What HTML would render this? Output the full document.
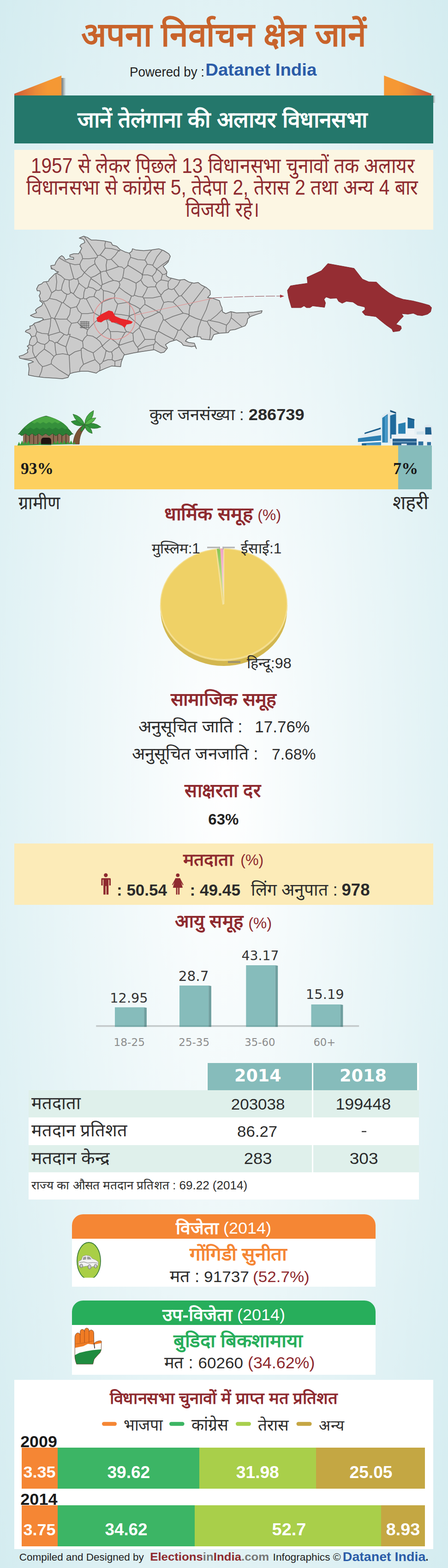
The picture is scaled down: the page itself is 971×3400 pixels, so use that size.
<!DOCTYPE html>
<html lang="hi">
<head>
<meta charset="utf-8">
<title>अपना निर्वाचन क्षेत्र जानें - अलायर विधानसभा</title>
<style>
html,body{margin:0;padding:0}
body{width:971px;height:3400px;position:relative;overflow:hidden;font-family:"Liberation Sans",sans-serif;
 background:radial-gradient(ellipse farthest-corner at 50% 50%,#ffffff 0%,#d4ecf0 100%)}
.b{position:absolute}
#banner{left:31px;top:207px;width:908px;height:103.700px;background:#24776b}
#intro{left:31px;top:325px;width:908px;height:172.800px;background:#fcf6e3}
#rural{left:31px;top:966px;width:832px;height:94.700px;background:#fdd05f}
#urban{left:863px;top:966px;width:73px;height:94.700px;background:#86bcbb}
#voters{left:31px;top:1829px;width:908px;height:132.800px;background:#fcebb8}
#thead1{left:450px;top:2305px;width:226px;height:59px;background:#86bcbb}
#thead2{left:679px;top:2305px;width:224.700px;height:59px;background:#86bcbb}
#thw{left:447px;top:2305px;width:461.200px;height:59px;background:#fff}
.row{left:62px;width:846.200px}
#r1{top:2364px;height:59px;background:#dff0eb}
#r2{top:2423px;height:60px;background:#fff}
#r3{top:2483px;height:59px;background:#dff0eb}
#r4{top:2542px;height:59px;background:#fff}
.vsep{left:676px;width:3px;top:2364px;height:178px;background:#fff}
.card{left:156px;width:658px;background:#fff;border-radius:24px 24px 0 0;overflow:hidden}
.card .h{height:53.600px}
#win{top:2632.700px;height:157px}#win .h{background:#f58634}
#run{top:2819.700px;height:161.300px}#run .h{background:#27ae5b}
#chart{left:31px;top:2992px;width:907.500px;height:366.800px;background:#fff}
.seg{position:absolute;height:88.700px}
svg{position:absolute;left:0;top:0}
.sr{position:absolute;left:0;top:0;width:1px;height:1px;margin:-1px;padding:0;overflow:hidden;clip:rect(0 0 0 0);clip-path:inset(50%);white-space:nowrap;border:0}
</style>
</head>
<body>
<div class="sr">
<h1>अपना निर्वाचन क्षेत्र जानें</h1><p>Powered by : Datanet India</p>
<h2>जानें तेलंगाना की अलायर विधानसभा</h2>
<p>1957 से लेकर पिछले 13 विधानसभा चुनावों तक अलायर विधानसभा से कांग्रेस 5, तेदेपा 2, तेरास 2 तथा अन्य 4 बार विजयी रहे।</p>
<p>कुल जनसंख्या : 286739 — ग्रामीण 93%, शहरी 7%</p>
<h3>धार्मिक समूह (%)</h3><p>हिन्दू:98, मुस्लिम:1, ईसाई:1</p>
<h3>सामाजिक समूह</h3><p>अनुसूचित जाति : 17.76% · अनुसूचित जनजाति : 7.68%</p>
<h3>साक्षरता दर</h3><p>63%</p>
<h3>मतदाता (%)</h3><p>पुरुष : 50.54, महिला : 49.45, लिंग अनुपात : 978</p>
<h3>आयु समूह (%)</h3><p>18-25: 12.95, 25-35: 28.7, 35-60: 43.17, 60+: 15.19</p>
<table><tr><th></th><th>2014</th><th>2018</th></tr><tr><td>मतदाता</td><td>203038</td><td>199448</td></tr><tr><td>मतदान प्रतिशत</td><td>86.27</td><td>-</td></tr><tr><td>मतदान केन्द्र</td><td>283</td><td>303</td></tr><tr><td colspan="3">राज्य का औसत मतदान प्रतिशत : 69.22 (2014)</td></tr></table>
<h3>विजेता (2014)</h3><p>गोंगिडी सुनीता — मत : 91737 (52.7%)</p>
<h3>उप-विजेता (2014)</h3><p>बुडिदा बिकशामाया — मत : 60260 (34.62%)</p>
<h3>विधानसभा चुनावों में प्राप्त मत प्रतिशत</h3><p>2009 — भाजपा 3.35, कांग्रेस 39.62, तेरास 31.98, अन्य 25.05; 2014 — भाजपा 3.75, कांग्रेस 34.62, तेरास 52.7, अन्य 8.93</p>
<p>Compiled and Designed by ElectionsinIndia.com Infographics © Datanet India.</p>
</div>

<div class="b" id="banner"></div>
<div class="b" id="intro"></div>
<div class="b" id="rural"></div><div class="b" id="urban"></div>
<div class="b" id="voters"></div>
<div class="b" id="thw"></div><div class="b" id="thead1"></div><div class="b" id="thead2"></div>
<div class="b row" id="r1"></div><div class="b row" id="r2"></div><div class="b row" id="r3"></div><div class="b row" id="r4"></div>
<div class="b vsep"></div>
<div class="b card" id="win"><div class="h"></div></div>
<div class="b card" id="run"><div class="h"></div></div>
<div class="b" id="chart">
<div class="seg" style="left:16.0px;top:147.0px;width:874.0px;background:#f58634"></div>
<div class="seg" style="left:93.8px;top:147.0px;width:796.2px;background:#3cb565"></div>
<div class="seg" style="left:401.1px;top:147.0px;width:488.9px;background:#a9cf4a"></div>
<div class="seg" style="left:653.5px;top:147.0px;width:236.5px;background:#c4a743"></div>
<div class="seg" style="left:16.0px;top:272.2px;width:874.0px;background:#f58634"></div>
<div class="seg" style="left:93.8px;top:272.2px;width:796.2px;background:#3cb565"></div>
<div class="seg" style="left:391.0px;top:272.2px;width:499.0px;background:#a9cf4a"></div>
<div class="seg" style="left:795.0px;top:272.2px;width:95.0px;background:#c4a743"></div>
</div>
<svg width="971" height="3400" viewBox="0 0 971 3400">
<defs>
<linearGradient id="rbL" x1="0" y1="0" x2="1" y2="0"><stop offset="0" stop-color="#d05a38"/><stop offset=".45" stop-color="#ea8a38"/><stop offset=".7" stop-color="#f59834"/><stop offset="1" stop-color="#f59834"/></linearGradient>
<linearGradient id="rbR" x1="1" y1="0" x2="0" y2="0"><stop offset="0" stop-color="#d05a38"/><stop offset=".45" stop-color="#ea8a38"/><stop offset=".7" stop-color="#f59834"/><stop offset="1" stop-color="#f59834"/></linearGradient>
<radialGradient id="pieg" cx="0.45" cy="0.4" r="0.7"><stop offset="0" stop-color="#f1d468"/><stop offset="1" stop-color="#edcf62"/></radialGradient>
</defs>
<defs><linearGradient id="rsh" x1="0" y1="0" x2="1" y2="0"><stop offset="0" stop-color="#444" stop-opacity=".75"/><stop offset=".5" stop-color="#666" stop-opacity=".45"/><stop offset="1" stop-color="#888" stop-opacity="0"/></linearGradient></defs>
<rect x="133.2" y="169" width="10" height="38" fill="url(#rsh)"/><polygon points="31,203.300 133.2,163.800 133.2,207 31,207" fill="url(#rbL)"/>
<polygon points="935,203.300 832.3,163.800 832.3,207 935,207" fill="url(#rbR)"/><rect x="939" y="207" width="5" height="16" fill="url(#rsh)" opacity=".6"/>
<g><polygon points="171.8,516.3 181.3,512.2 189.5,514.9 197.6,520.4 208.5,520.4 224.8,522.3 240.9,525.8 243.6,531.2 253.1,534.0 259.9,540.8 270.8,546.2 280.3,548.9 285.7,544.8 287.1,539.4 295.2,542.1 311.5,543.5 327.8,542.1 344.1,539.4 355.0,543.5 365.9,550.3 369.1,555.7 364.5,567.9 359.1,573.4 353.6,577.4 357.7,582.9 361.8,589.7 360.4,597.8 365.9,601.9 376.7,604.6 387.6,607.3 399.8,606.0 409.3,611.4 420.2,614.1 429.5,612.6 436.3,618.0 447.2,623.5 455.3,630.3 455.9,638.4 449.9,645.2 460.8,646.6 475.7,652.0 478.4,661.5 481.1,667.0 482.5,676.5 489.3,680.0 500.2,675.7 512.4,678.4 534.1,677.8 550.4,676.5 568.1,673.8 566.7,678.4 555.9,681.9 543.6,686.0 536.8,691.4 535.5,699.6 531.4,706.4 520.5,710.4 509.7,714.5 498.8,715.9 494.7,721.3 474.3,722.7 463.5,725.4 460.8,730.8 458.0,737.1 447.2,736.2 436.3,734.9 434.9,730.8 420.0,729.5 421.3,730.8 406.4,733.8 401.9,739.8 409.4,742.8 421.3,744.3 425.8,756.2 422.8,750.3 415.4,751.7 397.4,748.8 392.9,742.8 382.5,736.8 367.5,741.3 358.6,747.3 363.0,754.7 355.6,763.7 348.1,765.2 334.6,758.3 307.7,762.2 289.8,765.2 268.9,769.7 262.9,784.6 261.4,795.1 242.0,793.6 230.0,798.1 213.9,805.0 208.5,809.1 190.8,805.0 175.9,805.0 159.6,807.7 151.4,810.4 147.3,818.6 135.1,821.3 118.8,819.9 94.3,818.6 75.3,815.9 61.7,813.2 63.1,799.6 61.2,788.7 65.8,787.3 72.6,784.6 67.2,781.9 53.6,779.2 42.7,776.5 41.4,772.4 50.9,769.7 60.4,764.2 59.0,758.8 63.1,754.7 59.0,750.7 63.1,747.9 64.5,738.4 68.5,730.3 64.5,723.5 54.9,719.4 56.3,716.7 65.8,712.6 64.5,707.2 69.9,705.8 75.3,700.4 86.2,697.7 94.3,692.2 91.6,689.5 75.3,688.2 65.8,684.1 69.9,682.1 79.4,678.0 76.7,672.6 80.8,668.5 90.3,663.0 93.0,657.6 86.2,652.2 87.6,648.1 84.8,641.3 87.6,635.9 86.2,630.4 80.8,630.4 79.4,626.4 83.5,618.2 90.3,615.5 94.3,611.4 105.2,610.1 106.6,606.0 113.4,599.2 118.8,593.8 127.0,589.7 121.5,588.3 117.4,584.2 111.2,582.9 110.1,576.1 118.8,574.7 121.5,567.9 128.3,558.4 133.8,554.3 137.8,557.1 141.9,563.9 148.7,561.1 159.6,562.5 159.6,558.4 151.4,557.1 151.4,553.0 159.6,550.3 170.4,550.3 174.5,543.5 177.2,538.0 173.2,534.0 175.9,529.9 184.0,525.8 181.3,519.0" fill="#cbcbcb" stroke="#606060" stroke-width="1.5" stroke-linejoin="round"/>
<path d="M63 747L68 749L71 750M71 750L71 763L76 775M76 775L62 778L50 778M377 626L385 618L391 607M377 626L372 628L365 626M365 626L364 618L365 610M365 610L367 608L372 603M229 523L227 531L228 538M261 541L259 544L257 543M257 543L242 539L228 538M182 512L196 532L211 554M211 554L213 554L217 553M228 538L221 548L217 553M76 775L77 774L77 775M85 817L90 805L92 795M77 775L84 787L92 795M92 795L100 793L111 789M111 789L128 802L149 815M249 794L249 788L249 783M249 783L257 781L266 778M333 747L316 751L299 758M333 747L335 746L337 740M337 740L336 739L336 736M336 736L324 736L314 736M314 736L306 745L298 753M298 753L300 757L299 758M332 759L333 754L333 747M298 764L300 760L299 758M537 678L540 683L541 688M525 709L512 698L501 689M501 676L502 683L501 689M337 740L347 749L361 757M411 684L400 698L392 713M436 694L424 690L411 684M436 694L430 710L427 730M414 732L403 724L392 713M355 656L351 666L346 677M344 677L345 678L346 677M314 660L330 669L344 677M314 660L314 652L311 646M355 656L351 648L349 642M311 646L331 646L349 642M232 563L237 563L241 562M232 563L230 575L231 587M241 562L249 570L257 578M231 587L243 583L257 578M257 543L250 553L241 562M217 553L226 558L232 563M280 549L283 554L283 558M269 583L275 578L277 575M269 583L264 579L257 578M283 558L278 568L277 575M329 542L321 551L314 564M283 558L299 563L314 564M258 611L263 608L266 602M258 611L260 617L258 623M266 602L279 606L295 614M258 623L271 633L285 642M295 614L295 625L291 640M291 640L289 642L285 642M269 583L268 591L266 602M230 588L236 599L246 608M246 608L252 609L258 611M230 588L230 585L231 587M173 545L178 555L179 561M211 554L211 558L208 559M208 559L193 561L179 561M111 789L112 781L117 773M77 775L85 766L96 757M96 757L108 765L117 773M216 804L217 797L216 790M216 790L210 784L206 780M172 806L174 798L181 790M181 790L195 784L206 780M230 760L227 774L223 784M230 760L236 763L242 763M242 763L244 771L243 780M223 784L234 780L243 780M216 790L220 788L223 784M202 765L203 770L206 780M221 750L224 754L230 760M221 750L210 759L202 765M249 783L246 782L243 780M258 752L249 757L242 763M270 769L264 762L258 752M258 752L257 750L258 749M298 753L294 748L289 739M258 749L273 744L289 739M314 736L308 722L302 711M289 739L289 733L288 723M288 723L294 717L302 711M341 720L337 728L336 736M341 720L324 714L304 708M304 708L302 709L302 711M152 810L151 792L150 771M122 769L119 771L117 773M122 769L136 767L147 769M147 769L150 770L150 771M181 790L177 775L176 759M150 771L162 763L176 759M202 765L190 760L180 754M180 754L176 756L176 759M490 722L490 713L491 705M476 723L465 717L456 709M491 705L475 699L455 695M456 709L452 703L449 697M449 697L453 694L455 695M501 689L497 698L491 705M454 737L456 723L456 709M482 671L470 683L455 695M436 694L435 693L436 694M436 694L443 696L449 697M455 646L447 671L436 694M397 679L402 680L410 682M397 679L387 667L375 655M410 682L410 674L412 664M412 664L403 652L393 641M375 655L381 648L388 642M393 641L389 642L388 642M444 622L429 642L412 664M411 684L409 683L410 682M417 613L405 627L393 641M349 640L348 642L349 642M365 626L356 631L349 640M377 626L383 635L388 642M355 656L364 654L375 655M377 736L382 727L386 716M377 736L359 727L343 718M386 716L370 706L357 694M343 718L348 705L354 693M354 693L356 694L357 694M377 738L376 737L377 736M392 713L391 716L386 716M341 720L342 720L343 718M397 679L375 686L357 694M346 677L352 684L354 693M277 575L295 586L309 595M314 564L317 568L319 573M319 573L312 583L309 595M134 656L127 673L118 691M134 656L122 650L107 647M107 647L102 652L94 654M94 654L103 671L111 690M111 690L113 689L118 691M145 692L130 692L119 691M119 691L118 692L118 691M137 656L144 662L153 668M153 668L151 682L145 692M137 656L134 657L134 656M87 653L91 652L94 654M112 635L106 622L100 611M112 635L109 643L107 647M75 701L93 694L110 691M110 691L111 689L111 690M344 677L330 684L313 691M314 660L310 663L304 670M304 670L302 672L304 675M313 691L308 684L304 675M304 708L303 707L304 707M313 691L307 699L304 707M221 750L223 749L222 750M258 749L259 747L257 748M257 748L250 741L240 734M240 734L229 743L222 750M189 727L201 729L209 734M189 727L183 733L179 740M179 740L180 749L180 754M222 750L217 741L209 734M208 559L205 566L206 572M230 588L225 588L219 590M206 572L213 583L219 590M222 617L219 603L218 591M246 608L236 611L222 617M219 590L217 589L218 591M112 635L118 631L121 629M121 629L126 630L133 629M137 656L142 648L145 638M133 629L139 635L145 638M340 583L334 579L331 575M340 583L352 574L366 564M331 575L340 557L352 542M319 573L327 574L331 575M362 591L357 595L352 595M365 610L356 608L349 607M352 595L351 599L349 607M340 583L338 584L340 584M352 595L346 588L340 584M107 738L106 734L106 727M107 738L103 743L97 747M97 747L88 745L81 741M105 724L91 723L80 719M105 724L104 727L106 727M81 741L80 734L77 728M77 728L78 724L80 719M96 757L97 752L97 747M119 744L114 740L107 738M122 769L120 758L119 744M71 750L76 747L81 741M73 702L77 710L80 719M110 691L109 707L105 724M119 691L125 706L130 720M130 720L120 723L106 727M69 730L74 729L77 728M139 725L131 734L124 743M139 725L145 727L148 725M151 729L147 740L143 752M151 729L152 725L148 725M143 752L131 747L124 743M119 744L122 742L124 743M130 720L133 721L139 725M155 701L150 712L148 725M155 701L148 695L145 692M147 769L144 759L143 752M179 740L166 734L151 729M189 727L188 722L190 715M155 701L162 700L168 699M168 699L177 708L190 715M240 734L240 728L239 719M209 734L223 723L234 712M239 719L236 714L234 712M257 748L262 736L271 721M239 719L255 719L271 721M304 707L291 696L280 686M280 686L276 695L269 707M288 723L279 720L274 719M269 707L271 714L274 719M271 721L273 720L274 719M234 712L234 704L231 693M190 715L203 701L218 688M218 688L224 689L231 693M269 707L252 701L232 692M231 693L231 694L232 692M220 621L209 612L197 604M220 621L220 623L219 624M219 624L215 629L209 630M209 630L202 625L191 622M191 622L194 611L197 604M179 561L176 566L173 573M173 573L176 583L183 591M206 572L193 580L183 591M183 591L184 591L183 591M218 591L207 598L197 602M183 591L189 596L197 602M222 617L221 617L220 621M197 604L198 605L197 602M191 622L189 625L185 625M185 625L177 619L171 614M183 591L177 599L168 604M168 604L170 610L171 614M338 622L328 622L320 623M338 622L337 620L340 614M340 614L334 609L330 599M320 623L311 617L305 607M330 599L320 596L309 596M305 607L308 603L309 596M309 644L315 634L320 623M309 644L311 646L311 646M349 640L343 632L338 622M349 607L344 610L340 614M340 584L337 591L330 599M309 644L300 643L291 640M295 614L301 610L305 607M309 595L307 596L309 596M177 680L190 680L203 678M177 680L170 674L166 665M203 678L196 665L187 648M166 665L171 657L174 648M174 648L178 648L181 646M187 648L183 648L181 646M218 688L219 688L217 686M217 686L208 681L203 678M168 699L174 691L177 680M153 668L158 667L166 665M217 686L220 673L221 658M204 643L212 648L221 658M204 643L194 644L187 648M159 637L154 634L153 635M145 638L149 638L153 635M159 637L166 644L174 648M185 625L182 634L181 646M171 614L166 625L159 637M204 643L205 638L209 630M255 659L252 670L248 681M255 659L267 657L280 655M248 681L262 682L280 685M280 655L281 657L281 658M281 658L281 670L280 685M280 685L279 687L280 685M280 686L282 687L280 685M232 692L238 685L248 681M285 642L282 650L280 655M304 670L292 663L281 658M304 675L291 681L280 685M224 630L224 643L224 654M224 630L234 632L248 637M224 654L237 649L247 646M248 637L249 642L247 646M219 624L220 626L224 630M221 658L223 654L224 654M258 623L255 628L248 637M255 659L250 653L247 646M160 604L153 607L150 607M160 604L155 586L151 571M150 607L143 606L140 605M140 605L132 598L122 592M115 584L112 581L110 578M151 571L140 566L128 559M153 635L150 621L150 607M168 604L165 606L160 604M173 573L162 574L151 571M133 629L135 618L140 605M121 629L123 611L121 593" fill="none" stroke="#747474" stroke-width="1.55"/>
<path d="M173 698h21M173 702h21M173 706h21M173 710h20M176 696v16M180 696v16M184 696v16M188 696v16M192 697v14" stroke="#555" stroke-width="1.1" fill="none"/>
<polygon points="209.2,689.5 219.3,681.4 235.7,673.2 243.8,675.3 249.9,685.5 262.1,690.8 280.5,694.8 287.8,697.7 284.6,701.8 274.4,703.8 270.3,711.1 264.2,705.8 252.0,699.7 241.8,698.9 235.7,691.6 225.5,694.8 219.3,698.9 211.2,697.7" fill="#e8262a"/>
<circle cx="248" cy="691" r="45" fill="none" stroke="#e58d8d" stroke-width="1.4"/>
<path d="M293 683 L461 647" stroke="#e58d8d" stroke-width="1.2" fill="none"/>
<path d="M461 646 Q540 642 608 642" stroke="#8a4048" stroke-width="1" fill="none" stroke-dasharray="20 3"/>
<polygon points="616,642.2 607,638.800 607,645.600" fill="#a8323a"/>
</g>
<polygon points="622.9,629.7 629.4,619.9 639.7,618.1 666.8,614.2 665.5,601.3 696.5,587.1 710.7,571.6 767.5,581.9 785.5,605.2 799.1,611.1 815.8,611.6 827.5,623.2 843.0,634.9 858.4,643.9 873.9,649.1 894.6,652.4 915.2,657.6 930.7,662.0 935.4,667.1 933.3,676.2 926.8,681.3 915.2,684.4 904.9,683.4 895.9,679.3 884.3,681.3 870.1,680.0 874.4,686.0 866.2,694.2 858.4,703.3 868.8,707.1 870.1,712.3 866.2,717.5 852.0,719.5 849.4,713.6 836.5,704.6 823.6,694.2 814.6,686.5 791.3,683.4 784.9,676.2 791.3,671.0 790.7,665.8 775.2,662.0 764.9,655.0 750.7,653.4 741.6,657.6 733.9,653.4 730.0,646.5 715.8,647.2 706.8,643.9 702.4,649.1 705.5,656.8 703.4,666.4 677.6,663.3 672.0,667.1 664.2,667.1 659.0,663.3 652.6,667.1 631.9,667.1 625.5,645.2" fill="#952d33" stroke="#7e2329" stroke-width="1"/>
<g><path d="M158 963 C160 945 166 932 180 922 L186 926 C176 936 172 948 172 963Z" fill="#7b5236" stroke="#4e3322" stroke-width=".8"/><path d="M183.5 921.0Q171.3 906.8 154.0 914.0Q166.2 928.2 183.5 921.0Z" fill="#2f8f3a" stroke="#2c5e2a" stroke-width=".8"/><path d="M183.5 921.0Q177.4 902.1 158.0 898.0Q164.1 916.9 183.5 921.0Z" fill="#3a9c40" stroke="#2c5e2a" stroke-width=".8"/><path d="M183.5 921.0Q202.6 911.4 203.0 890.0Q183.9 899.6 183.5 921.0Z" fill="#46a845" stroke="#2c5e2a" stroke-width=".8"/><path d="M183.5 921.0Q199.7 934.4 219.0 926.0Q202.8 912.6 183.5 921.0Z" fill="#2f8f3a" stroke="#2c5e2a" stroke-width=".8"/><path d="M183.5 921.0Q185.0 936.4 200.0 940.0Q198.5 924.6 183.5 921.0Z" fill="#3a9c40" stroke="#2c5e2a" stroke-width=".8"/><path d="M183.5 921.0Q174.0 925.5 175.0 936.0Q184.5 931.5 183.5 921.0Z" fill="#2f8f3a" stroke="#2c5e2a" stroke-width=".8"/><path d="M183.5 921.0Q200.4 921.2 208.0 906.0Q191.1 905.8 183.5 921.0Z" fill="#58b84c" stroke="#2c5e2a" stroke-width=".8"/><rect x="50" y="938" width="101" height="25" fill="#8b6a52"/><path d="M56 938v25M64 938v25M73 938v25M82 938v25M116 938v25M125 938v25M134 938v25M143 938v25" stroke="#5a3f2e" stroke-width="2"/><path d="M89 965 v-9 q0 -6 5 -7 h12 q5 1 5 7 v9Z" fill="#1f1410"/><path d="M40 942 C52 924 72 908 100 902 C126 908 146 924 158 942 L158.0 940.0 L150.6 945.0 L143.2 940.0 L135.9 945.0 L128.5 940.0 L121.1 945.0 L113.8 940.0 L106.4 945.0 L99.0 940.0 L91.6 945.0 L84.2 940.0 L76.9 945.0 L69.5 940.0 L62.1 945.0 L54.8 940.0 L47.4 945.0 L40.0 940.0 Z" fill="#2a7d34" stroke="#28562a" stroke-width="1"/><path d="M52 928 C64 914 80 906 100 903 C120 906 136 914 148 928 L148.0 927.0 L141.1 931.0 L134.3 927.0 L127.4 931.0 L120.6 927.0 L113.7 931.0 L106.9 927.0 L100.0 931.0 L93.1 927.0 L86.3 931.0 L79.4 927.0 L72.6 931.0 L65.7 927.0 L58.9 931.0 L52.0 927.0 Z" fill="#35903b"/><path d="M68 916 C78 908 88 904 100 903 C112 904 122 908 132 916 L132.0 915.0 L125.6 918.5 L119.2 915.0 L112.8 918.5 L106.4 915.0 L100.0 918.5 L93.6 915.0 L87.2 918.5 L80.8 915.0 L74.4 918.5 L68.0 915.0 Z" fill="#4aa843"/><path d="M38 966 l3 -8 l3 6 l4 -9 l3 8 l4 -6 l3 6 l4 -8 l3 8 h18 l3 -6 l3 6 h26 l3 -7 l3 7 l4 -8 l3 8 l4 -6 l4 6 l3 -9 l4 9 l4 -6 l3 6 l4 -8 l4 8 l3 -5 l3 5Z" fill="#3a9a3c"/></g>
<g><polygon points="775.9,951.3 790.2,938.3 825.2,927.1 826.6,965.6 775.9,965.6" fill="#e4eef3"/><polygon points="790.2,938.3 825.2,927.1 825.2,930.4 790.2,941.3" fill="#1d5f8c"/><polygon points="775.9,950.4 825.9,943.7 825.9,955.6 775.9,958.5" fill="#2d7fb2"/><polygon points="784.3,960.8 825.9,958.5 825.9,965.6 784.3,965.6" fill="#3f8fbf"/><polygon points="775.9,958.9 825.9,956.1 825.9,958.0 775.9,960.8" fill="#ffffff"/><polygon points="827.1,902.6 834.2,896.2 845.6,894.3 845.6,888.3 859.2,893.1 860.3,960.8 827.1,960.8" fill="#dfeaf0"/><polygon points="828.5,906.2 840.4,897.8 840.4,959.6 828.5,959.6" fill="#2a7fb0"/><polygon points="845.6,900.9 858.4,897.1 858.4,951.3 845.6,951.3" fill="#1f6a9c"/><polygon points="845.6,889.0 858.4,893.8 858.4,897.1 845.6,893.1" fill="#17527c"/><polygon points="834.2,903.8 838.9,900.4 838.9,959.6 834.2,959.6" fill="#4a9ccc"/><polygon points="861.5,915.7 883.6,906.6 898.4,909.7 898.4,942.3 861.5,942.3" fill="#eef4f7"/><polygon points="863.2,919.2 878.9,915.7 878.9,940.6 863.2,940.6" fill="#2a7fb0"/><polygon points="883.6,906.6 897.9,910.4 897.9,928.7 883.6,928.7" fill="#1f6a9c"/><polygon points="883.6,905.0 898.4,909.0 898.4,911.4 883.6,908.1" fill="#17527c"/><polygon points="898.4,931.1 912.7,928.7 936.4,933.5 936.4,965.6 898.4,965.6" fill="#e6eff4"/><polygon points="919.8,922.8 928.1,919.9 936.9,924.0 936.9,951.3 919.8,951.3" fill="#dfe9ef"/><polygon points="921.7,926.4 934.1,926.4 936.0,951.3 921.7,948.9" fill="#1f5f8c"/><polygon points="903.1,935.9 918.6,935.2 918.6,947.8 903.1,947.8" fill="#cfe2ec"/><polygon points="848.5,942.3 936.4,942.3 936.4,965.6 848.5,965.6" fill="#edf3f6"/><polygon points="850.8,951.3 903.1,951.3 903.1,965.6 850.8,965.6" fill="#255f8e"/><polygon points="850.8,957.5 903.1,957.5 903.1,958.9 850.8,958.9" fill="#9cc3dc"/><polygon points="869.9,962.0 881.7,962.0 881.7,965.6 869.9,965.6" fill="#dbe7ee"/><polygon points="906.7,957.3 917.4,957.3 917.4,965.6 906.7,965.6" fill="#2d6f9f"/><polygon points="925.7,958.5 934.1,958.5 934.1,965.6 925.7,965.6" fill="#2d6f9f"/><polygon points="784.3,962.0 793.8,962.0 793.8,965.6 784.3,965.6" fill="#1f5f8c"/></g>
<g>
<path d="M348 1310 v14 a137 120 0 0 0 274 0 v-14Z" fill="#d3b74f"/>
<path d="M348 1312 a137 120 0 0 0 274 0" fill="none" stroke="#f3de8e" stroke-width="2.5"/>
<ellipse cx="485" cy="1310" rx="137" ry="120" fill="#efd166" stroke="#f4df92" stroke-width="2"/>
<defs><linearGradient id="sg" x1="0" y1="0" x2="0" y2="1"><stop offset="0" stop-color="#86c653"/><stop offset="1" stop-color="#dcebc0"/></linearGradient>
<linearGradient id="sp" x1="0" y1="0" x2="0" y2="1"><stop offset="0" stop-color="#f0a2c6"/><stop offset="1" stop-color="#f6e3ec"/></linearGradient></defs>
<polygon points="467.5,1191 470,1190 484.7,1311 482,1311" fill="#f3e19a"/>
<polygon points="470,1190 477,1189.5 484.7,1300" fill="url(#sg)"/>
<polygon points="477.5,1189.5 484.5,1189.5 484.7,1300" fill="url(#sp)"/>
<rect x="484.3" y="1190" width="1.8" height="120" fill="#f6e7ad"/>
<rect x="449" y="1185.5" width="27" height="3.2" fill="#b3b3b3"/><rect x="482.4" y="1185.5" width="26.5" height="3.2" fill="#b3b3b3"/>
<rect x="494" y="1433.5" width="27" height="4" fill="#9a9070"/><rect x="474.500" y="1185.5" width="2.5" height="6" fill="#b3b3b3"/><rect x="482.4" y="1185.5" width="2.5" height="6" fill="#b3b3b3"/>
</g>
<g fill="#8e2a2f">
<circle cx="229.3" cy="1897.8" r="4.2"/>
<path d="M220 1904.200 h18.600 q1.400 0 1.400 1.500 v14.300 h-3.300 v-12.500 h-1.500 v32.300 h-4.600 v-18.500 h-1.800 v18.500 h-4.600 v-32.300 h-1.500 v12.500 h-3.300 v-14.300 q0 -1.500 1.200 -1.500Z"/>
<circle cx="385.3" cy="1897.8" r="3.9"/>
<path d="M380.200 1904.200 h10.200 l5.600 20.800 h-6.900 v14.800 h-3 v-14.800 h-1.500 v14.800 h-3 v-14.800 h-6.900Z"/>
<path d="M380.400 1904.600 l-7.600 13.800 l1.600 1 l7.800 -13.600Z M390.200 1904.600 l7.600 13.800 l-1.600 1 l-7.800 -13.600Z"/>
</g>
<rect x="208.2" y="2223" width="570" height="3.600" fill="#c4cacb"/><rect x="249.0" y="2184.2" width="63.2" height="38.8" fill="#86bcbb"/><polygon points="312.2,2184.2 317.9,2185.2 317.9,2223 312.2,2223" fill="#6f9f9f"/><rect x="249.0" y="2223" width="63.2" height="3.600" fill="#76abaa"/><rect x="312.2" y="2223" width="5.700" height="3.600" fill="#648f8f"/><rect x="389.0" y="2137.0" width="63.2" height="86.0" fill="#86bcbb"/><polygon points="452.2,2137.0 457.9,2138.0 457.9,2223 452.2,2223" fill="#6f9f9f"/><rect x="389.0" y="2223" width="63.2" height="3.600" fill="#76abaa"/><rect x="452.2" y="2223" width="5.700" height="3.600" fill="#648f8f"/><rect x="533.3" y="2093.0" width="63.2" height="130.0" fill="#86bcbb"/><polygon points="596.5,2093.0 602.2,2094.0 602.2,2223 596.5,2223" fill="#6f9f9f"/><rect x="533.3" y="2223" width="63.2" height="3.600" fill="#76abaa"/><rect x="596.5" y="2223" width="5.700" height="3.600" fill="#648f8f"/><rect x="674.5" y="2178.0" width="63.2" height="45.0" fill="#86bcbb"/><polygon points="737.7,2178.0 743.4,2179.0 743.4,2223 737.7,2223" fill="#6f9f9f"/><rect x="674.5" y="2223" width="63.2" height="3.600" fill="#76abaa"/><rect x="737.7" y="2223" width="5.700" height="3.600" fill="#648f8f"/>
<g><clipPath id="tc"><rect x="160" y="2688" width="70" height="82.600"/></clipPath><ellipse cx="192.5" cy="2734" rx="25.5" ry="40" fill="#a9cf46" stroke="#3f7f3c" stroke-width="1.8" clip-path="url(#tc)"/><polygon points="170.2,2735.1 176.3,2732.1 179.3,2724.1 186.7,2721.7 195.2,2723.5 200.1,2729.0 207.5,2732.1 213.0,2736.4 212.4,2743.7 208.7,2748.0 203.8,2746.1 198.9,2746.8 196.5,2751.0 192.8,2751.6 191.0,2744.9 186.7,2745.5 179.3,2746.8 176.3,2748.6 173.2,2746.1 170.2,2742.5" fill="#f2f2f2" stroke="#8a8a8a" stroke-width=".8"/><polygon points="180.6,2726.0 186.7,2724.4 186.7,2730.9 179.3,2732.1" fill="#9a9a9a"/><polygon points="188.9,2724.4 194.6,2725.4 198.3,2730.9 188.9,2730.9" fill="#9a9a9a"/><path d="M172.0 2737.6 L181.8 2736.4 L190.4 2738.8 L201.4 2737.6 L211.1 2738.8" stroke="#777" stroke-width="1" fill="none"/><ellipse cx="176.3" cy="2744.9" rx="3" ry="4" fill="#c9c9c9" stroke="#666" stroke-width="1"/><ellipse cx="194.0" cy="2746.8" rx="3.2" ry="4.600" fill="#c9c9c9" stroke="#666" stroke-width="1"/><ellipse cx="207.2" cy="2745.5" rx="3" ry="4" fill="#c9c9c9" stroke="#666" stroke-width="1"/></g>
<g><clipPath id="hc"><path d="M165.9 2958.0 C162.8 2949.5 161.6 2943.4 162.2 2936.0 L162.2 2901.8 C162.2 2894.5 164.7 2890.8 168.3 2890.2 C171.4 2890.2 173.2 2891.4 173.6 2894.5 L173.8 2887.1 C174.5 2883.5 176.3 2882.6 178.4 2882.6 C180.8 2882.8 182.8 2884.1 183.1 2887.1 L183.3 2883.5 C184.2 2880.8 186.1 2879.8 187.9 2879.8 C190.4 2880.0 192.3 2881.2 192.9 2884.1 L193.0 2887.1 C194.0 2884.7 195.9 2883.8 197.9 2883.8 C200.7 2884.3 202.8 2885.9 203.3 2889.6 L203.8 2912.8 C207.5 2909.1 213.6 2906.7 218.5 2907.3 C220.3 2907.9 220.3 2909.7 219.9 2911.6 L219.2 2927.5 C217.9 2932.4 216.0 2934.8 213.6 2936.6 C208.7 2942.1 205.0 2945.8 203.8 2948.3 L201.4 2958.0Z"/></clipPath><g clip-path="url(#hc)"><rect x="155" y="2875" width="75" height="90" fill="#f07c24"/><polygon points="157.3,2923.8 180.6,2918.9 190.4,2914.0 203.8,2915.2 223.4,2911.6 223.4,2927.5 201.4,2928.7 186.7,2931.1 157.3,2940.9" fill="#fdfdfb"/><polygon points="157.3,2940.9 172.0,2933.6 186.7,2929.9 201.4,2927.5 223.4,2925.6 223.4,2962.9 157.3,2962.9" fill="#1f8c40"/><path d="M173.6 2893.2 L173.6 2911.6 M183.1 2885.9 L183.1 2911.6 M192.9 2885.9 L192.9 2911.6" stroke="#b8561a" stroke-width="1.3"/><path d="M163.5 2914.0 Q184.2 2912.8 203.8 2906.7" stroke="#c9661f" stroke-width="1.2" fill="none"/><path d="M203.8 2912.8 L205.3 2923.8" stroke="#3a2a2a" stroke-width="1.6"/></g><path d="M165.9 2958.0 C162.8 2949.5 161.6 2943.4 162.2 2936.0 L162.2 2901.8 C162.2 2894.5 164.7 2890.8 168.3 2890.2 C171.4 2890.2 173.2 2891.4 173.6 2894.5 L173.8 2887.1 C174.5 2883.5 176.3 2882.6 178.4 2882.6 C180.8 2882.8 182.8 2884.1 183.1 2887.1 L183.3 2883.5 C184.2 2880.8 186.1 2879.8 187.9 2879.8 C190.4 2880.0 192.3 2881.2 192.9 2884.1 L193.0 2887.1 C194.0 2884.7 195.9 2883.8 197.9 2883.8 C200.7 2884.3 202.8 2885.9 203.3 2889.6 L203.8 2912.8 C207.5 2909.1 213.6 2906.7 218.5 2907.3 C220.3 2907.9 220.3 2909.7 219.9 2911.6 L219.2 2927.5 C217.9 2932.4 216.0 2934.8 213.6 2936.6 C208.7 2942.1 205.0 2945.8 203.8 2948.3 L201.4 2958.0Z" fill="none" stroke="#6b4a3a" stroke-width=".9"/></g>
<rect x="221.0" y="3083.3" width="32.0" height="8.500" rx="4.2" fill="#f58634"/>
<rect x="367.0" y="3083.3" width="32.6" height="8.500" rx="4.2" fill="#3cb563"/>
<rect x="511.0" y="3083.3" width="33.0" height="8.500" rx="4.2" fill="#a8cf4d"/>
<rect x="642.5" y="3083.3" width="33.1" height="8.500" rx="4.2" fill="#c5a644"/>
<rect x="784" y="2452.5" width="10" height="2.4" fill="#333"/>
</svg>
<svg width="971" height="3400" viewBox="0 0 971 3400" role="img" aria-label="अपना निर्वाचन क्षेत्र जानें" font-family="'Liberation Sans', sans-serif">
<text x="175.7" y="99.5" font-size="72" font-weight="bold" fill="#c8632b" textLength="618" lengthAdjust="spacingAndGlyphs">अपना निर्वाचन क्षेत्र जानें</text>
<text x="281" y="165.5" font-size="29" fill="#222" textLength="162" lengthAdjust="spacingAndGlyphs">Powered by :</text>
<text x="445.3" y="164.4" font-size="36" font-weight="bold" fill="#2b5ca8" textLength="241" lengthAdjust="spacingAndGlyphs">Datanet India</text>
<text x="168.3" y="275.7" font-size="47.6" font-weight="bold" fill="#fff" textLength="628" lengthAdjust="spacingAndGlyphs">जानें तेलंगाना की अलायर विधानसभा</text>
<text x="66.9" y="375.3" font-size="46" fill="#8e2a2f" textLength="832" lengthAdjust="spacingAndGlyphs">1957 से लेकर पिछले 13 विधानसभा चुनावों तक अलायर</text>
<text x="57.3" y="422.3" font-size="46" fill="#8e2a2f" textLength="849" lengthAdjust="spacingAndGlyphs">विधानसभा से कांग्रेस 5, तेदेपा 2, तेरास 2 तथा अन्य 4 बार</text>
<text x="402.2" y="469.5" font-size="46" fill="#8e2a2f" textLength="160" lengthAdjust="spacingAndGlyphs">विजयी रहे।</text>
<text x="323.5" y="911.3" font-size="35.5" fill="#2b2b2b" textLength="336" lengthAdjust="spacingAndGlyphs">कुल जनसंख्या : <tspan font-weight="bold">286739</tspan></text>
<text x="45" y="1028" font-size="35.7" font-weight="bold" fill="#1a1a1a" font-family="'Liberation Serif', serif" textLength="71" lengthAdjust="spacingAndGlyphs">93%</text>
<text x="851.9" y="1028" font-size="36.3" font-weight="bold" fill="#1a1a1a" font-family="'Liberation Serif', serif" textLength="54.5" lengthAdjust="spacingAndGlyphs">7%</text>
<text x="40.3" y="1103.7" font-size="39.7" fill="#2b2b2b" textLength="90" lengthAdjust="spacingAndGlyphs">ग्रामीण</text>
<text x="850.8" y="1103.7" font-size="41.8" fill="#2b2b2b" textLength="78" lengthAdjust="spacingAndGlyphs">शहरी</text>
<text x="356.1" y="1127.5" font-size="39.5" font-weight="bold" fill="#8e2a2f" textLength="192" lengthAdjust="spacingAndGlyphs">धार्मिक समूह</text>
<text x="558.2" y="1127.5" font-size="34" fill="#8e2a2f" textLength="51" lengthAdjust="spacingAndGlyphs">(%)</text>
<text x="328.8" y="1199.8" font-size="30.6" fill="#2b2b2b" textLength="105" lengthAdjust="spacingAndGlyphs">मुस्लिम:1</text>
<text x="522.4" y="1199.8" font-size="31.8" fill="#2b2b2b" textLength="88" lengthAdjust="spacingAndGlyphs">ईसाई:1</text>
<text x="534.7" y="1448.7" font-size="31.6" fill="#2b2b2b" textLength="97" lengthAdjust="spacingAndGlyphs">हिन्दू:98</text>
<text x="369.5" y="1529.7" font-size="39.2" font-weight="bold" fill="#8e2a2f" textLength="230" lengthAdjust="spacingAndGlyphs">सामाजिक समूह</text>
<text x="299.6" y="1588" font-size="36.4" fill="#2b2b2b" textLength="226" lengthAdjust="spacingAndGlyphs">अनुसूचित जाति :</text>
<text x="552.2" y="1588" font-size="35" fill="#2b2b2b" textLength="119" lengthAdjust="spacingAndGlyphs">17.76%</text>
<text x="285.6" y="1646.5" font-size="36.7" fill="#2b2b2b" textLength="274" lengthAdjust="spacingAndGlyphs">अनुसूचित जनजाति :</text>
<text x="589" y="1646.5" font-size="34" fill="#2b2b2b" textLength="95.5" lengthAdjust="spacingAndGlyphs">7.68%</text>
<text x="400.3" y="1728" font-size="40.9" font-weight="bold" fill="#8e2a2f" textLength="165" lengthAdjust="spacingAndGlyphs">साक्षरता दर</text>
<text x="451.3" y="1788" font-size="33.6" font-weight="bold" fill="#222" textLength="66" lengthAdjust="spacingAndGlyphs">63%</text>
<text x="396.6" y="1876.5" font-size="37" font-weight="bold" fill="#8e2a2f" textLength="109.5" lengthAdjust="spacingAndGlyphs">मतदाता</text>
<text x="521.3" y="1875.6" font-size="33" fill="#8e2a2f" textLength="50" lengthAdjust="spacingAndGlyphs">(%)</text>
<text x="253" y="1941.7" font-size="35.4" font-weight="bold" fill="#2b2b2b" textLength="109" lengthAdjust="spacingAndGlyphs">: 50.54</text>
<text x="411.4" y="1941.7" font-size="35.6" font-weight="bold" fill="#2b2b2b" textLength="109.6" lengthAdjust="spacingAndGlyphs">: 49.45</text>
<text x="544" y="1941.7" font-size="37" fill="#2b2b2b" textLength="187.7" lengthAdjust="spacingAndGlyphs">लिंग अनुपात :</text>
<text x="740.5" y="1941.7" font-size="36.2" font-weight="bold" fill="#2b2b2b" textLength="61" lengthAdjust="spacingAndGlyphs">978</text>
<text x="378.8" y="2011.3" font-size="39.3" font-weight="bold" fill="#8e2a2f" textLength="149" lengthAdjust="spacingAndGlyphs">आयु समूह</text>
<text x="538.2" y="2012.6" font-size="33" fill="#8e2a2f" textLength="51" lengthAdjust="spacingAndGlyphs">(%)</text>
<g font-family="'DejaVu Sans', sans-serif" fill="#333">
<text x="238.3" y="2174" font-size="28.8" textLength="82.4" lengthAdjust="spacingAndGlyphs">12.95</text>
<text x="386.8" y="2127" font-size="29.5" textLength="65.6" lengthAdjust="spacingAndGlyphs">28.7</text>
<text x="523.4" y="2081.7" font-size="28.3" textLength="81" lengthAdjust="spacingAndGlyphs">43.17</text>
<text x="662.8" y="2166" font-size="29" textLength="83" lengthAdjust="spacingAndGlyphs">15.19</text>
</g>
<g font-family="'DejaVu Sans', sans-serif" fill="#8c8c8c">
<text x="246.5" y="2267.6" font-size="23.3" textLength="67.6" lengthAdjust="spacingAndGlyphs">18-25</text>
<text x="387.3" y="2267.6" font-size="23" textLength="66.7" lengthAdjust="spacingAndGlyphs">25-35</text>
<text x="530.3" y="2267.6" font-size="22.8" textLength="66.2" lengthAdjust="spacingAndGlyphs">35-60</text>
<text x="679.4" y="2267.6" font-size="22.7" textLength="48" lengthAdjust="spacingAndGlyphs">60+</text>
</g>
<g font-family="'DejaVu Sans', sans-serif" font-weight="bold" fill="#fff">
<text x="508.1" y="2345" font-size="36.5" textLength="101.5" lengthAdjust="spacingAndGlyphs">2014</text>
<text x="736.1" y="2345" font-size="36.7" textLength="102" lengthAdjust="spacingAndGlyphs">2018</text>
</g>
<text x="67.7" y="2405" font-size="38" fill="#2b2b2b" textLength="107" lengthAdjust="spacingAndGlyphs">मतदाता</text>
<text x="67.7" y="2464" font-size="37.8" fill="#2b2b2b" textLength="208" lengthAdjust="spacingAndGlyphs">मतदान प्रतिशत</text>
<text x="67.7" y="2523.6" font-size="37.7" fill="#2b2b2b" textLength="170" lengthAdjust="spacingAndGlyphs">मतदान केन्द्र</text>
<text x="67.5" y="2578.8" font-size="25.8" fill="#2b2b2b" textLength="468.6" lengthAdjust="spacingAndGlyphs">राज्य का औसत मतदान प्रतिशत : 69.22 (2014)</text>
<text x="500.8" y="2405.6" font-size="34" fill="#2b2b2b" textLength="116.6" lengthAdjust="spacingAndGlyphs">203038</text>
<text x="727.4" y="2405.6" font-size="34.5" fill="#2b2b2b" textLength="119.7" lengthAdjust="spacingAndGlyphs">199448</text>
<text x="514.1" y="2465" font-size="33.6" fill="#2b2b2b" textLength="87" lengthAdjust="spacingAndGlyphs">86.27</text>
<text x="528.8" y="2524.4" font-size="35" fill="#2b2b2b" textLength="60.6" lengthAdjust="spacingAndGlyphs">283</text>
<text x="757.8" y="2524.4" font-size="35.5" fill="#2b2b2b" textLength="61.7" lengthAdjust="spacingAndGlyphs">303</text>
<text x="380.6" y="2676" font-size="37" font-weight="bold" fill="#fff" textLength="93.5" lengthAdjust="spacingAndGlyphs">विजेता</text>
<text x="484" y="2675.2" font-size="34.4" fill="#fff" textLength="104" lengthAdjust="spacingAndGlyphs">(2014)</text>
<text x="411.3" y="2733" font-size="39.3" font-weight="bold" fill="#f58634" textLength="210" lengthAdjust="spacingAndGlyphs">गोंगिडी सुनीता</text>
<text x="368.2" y="2779.8" font-size="36.7" fill="#2b2b2b" textLength="64" lengthAdjust="spacingAndGlyphs">मत :</text>
<text x="442.1" y="2779.8" font-size="33.5" fill="#2b2b2b" textLength="97.7" lengthAdjust="spacingAndGlyphs">91737</text>
<text x="548.1" y="2779.8" font-size="33.8" fill="#8e2a2f" textLength="122.7" lengthAdjust="spacingAndGlyphs">(52.7%)</text>
<text x="351.8" y="2864.3" font-size="37" font-weight="bold" fill="#fff" textLength="151.4" lengthAdjust="spacingAndGlyphs">उप-विजेता</text>
<text x="514.1" y="2863.2" font-size="34.3" fill="#fff" textLength="104" lengthAdjust="spacingAndGlyphs">(2014)</text>
<text x="376.1" y="2920.6" font-size="39.6" font-weight="bold" fill="#27ae5b" textLength="280" lengthAdjust="spacingAndGlyphs">बुडिदा बिकशामाया</text>
<text x="355.5" y="2967.3" font-size="36.2" fill="#2b2b2b" textLength="63" lengthAdjust="spacingAndGlyphs">मत :</text>
<text x="429.6" y="2967.3" font-size="33.4" fill="#2b2b2b" textLength="97.4" lengthAdjust="spacingAndGlyphs">60260</text>
<text x="537" y="2967.3" font-size="34.5" fill="#8e2a2f" textLength="145.4" lengthAdjust="spacingAndGlyphs">(34.62%)</text>
<text x="237.5" y="3044" font-size="35" font-weight="bold" fill="#8e2a2f" textLength="494" lengthAdjust="spacingAndGlyphs">विधानसभा चुनावों में प्राप्त मत प्रतिशत</text>
<text x="268.1" y="3102" font-size="35.4" fill="#2b2b2b" textLength="84.7" lengthAdjust="spacingAndGlyphs">भाजपा</text>
<text x="415.3" y="3102" font-size="36.5" fill="#2b2b2b" textLength="80" lengthAdjust="spacingAndGlyphs">कांग्रेस</text>
<text x="559.1" y="3102" font-size="34" fill="#2b2b2b" textLength="67" lengthAdjust="spacingAndGlyphs">तेरास</text>
<text x="691.3" y="3102" font-size="32.2" fill="#2b2b2b" textLength="55" lengthAdjust="spacingAndGlyphs">अन्य</text>
<text x="44.2" y="3137.5" font-size="35.5" font-weight="bold" fill="#1a1a1a" textLength="79.6" lengthAdjust="spacingAndGlyphs">2009</text>
<text x="44.2" y="3262.7" font-size="35.9" font-weight="bold" fill="#1a1a1a" textLength="80.4" lengthAdjust="spacingAndGlyphs">2014</text>
<g font-weight="bold" fill="#fff">
<text x="50.6" y="3204" font-size="35.7" textLength="70" lengthAdjust="spacingAndGlyphs">3.35</text>
<text x="232.5" y="3204.6" font-size="36.8" textLength="92.6" lengthAdjust="spacingAndGlyphs">39.62</text>
<text x="511.8" y="3204.6" font-size="37.6" textLength="93" lengthAdjust="spacingAndGlyphs">31.98</text>
<text x="757.5" y="3204.6" font-size="37" textLength="93" lengthAdjust="spacingAndGlyphs">25.05</text>
<text x="50.6" y="3328.7" font-size="35.7" textLength="70" lengthAdjust="spacingAndGlyphs">3.75</text>
<text x="227.5" y="3328.7" font-size="36.5" textLength="92" lengthAdjust="spacingAndGlyphs">34.62</text>
<text x="589.6" y="3328.7" font-size="37.6" textLength="73.7" lengthAdjust="spacingAndGlyphs">52.7</text>
<text x="836.8" y="3328.7" font-size="37.5" textLength="73.4" lengthAdjust="spacingAndGlyphs">8.93</text>
</g>
<text x="41.7" y="3383.8" font-size="22.5" fill="#222" textLength="270" lengthAdjust="spacingAndGlyphs">Compiled and Designed by</text>
<text x="325.2" y="3383.8" font-size="23.8" font-weight="bold" fill="#8e2a2f" textLength="258" lengthAdjust="spacingAndGlyphs">Elections<tspan fill="#777777">in</tspan>India<tspan fill="#777777">.com</tspan></text>
<text x="591.6" y="3383.8" font-size="22.8" fill="#222" textLength="147" lengthAdjust="spacingAndGlyphs">Infographics ©</text>
<text x="742.8" y="3385" font-size="27" font-weight="bold" fill="#2b5ca8" textLength="179.5" lengthAdjust="spacingAndGlyphs">Datanet India</text>
<text x="921.1" y="3383.8" font-size="31.5" fill="#222">.</text>
</svg>
</body>
</html>
